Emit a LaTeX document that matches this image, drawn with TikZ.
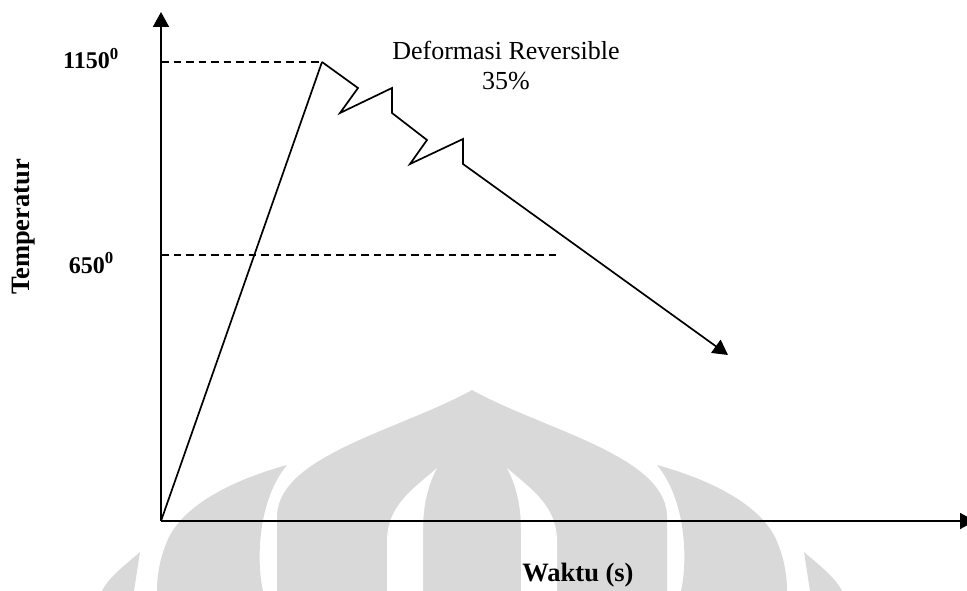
\documentclass[tikz,border=0pt]{standalone}
\usepackage{fontspec}
\setmainfont{Liberation Serif}
\usetikzlibrary{arrows.meta}
\definecolor{wmgray}{RGB}{217,217,217}
\begin{document}
\begin{tikzpicture}[x=1pt,y=-1pt,
  tip/.style={-{Triangle[length=15pt,width=16pt]}},
  axisline/.style={line width=1.9pt, tip},
  curve/.style={line width=1.7pt, line join=miter, miter limit=20},
  guide/.style={line width=1.6pt, dash pattern=on 7.5pt off 5pt},
  numlabel/.style={font=\bfseries\fontsize{24}{28}\selectfont, inner sep=0pt},
  axislabel/.style={font=\bfseries\fontsize{26.5}{30}\selectfont, inner sep=0pt},
  note/.style={font=\fontsize{26}{30}\selectfont, inner sep=0pt},
  emblem/.style={fill=wmgray, draw=none},
  gap/.style={fill=white, draw=none}]
\useasboundingbox (0,0) rectangle (967,591);

% background emblem: central dome with two slits, side petals and small leaves
\fill[emblem] (277,591) -- (277,515)
  .. controls (280,455) and (400,430) .. (472,390)
  .. controls (544,430) and (664,455) .. (667,515) -- (667,591) -- cycle;
\fill[gap] (437,468) .. controls (412,490) and (388,505) .. (387,540)
  -- (387,591) -- (423,591) -- (423,530) .. controls (423,505) and (428,485) .. (437,468);
\fill[gap] (507,468) .. controls (532,490) and (556,505) .. (557,540)
  -- (557,591) -- (521,591) -- (521,530) .. controls (521,505) and (516,485) .. (507,468);
\fill[emblem] (287,465) .. controls (240,478) and (190,500) .. (170,535)
  .. controls (160,555) and (157,575) .. (157,591) -- (263,591)
  .. controls (256,560) and (258,500) .. (287,465);
\fill[emblem] (657,465) .. controls (704,478) and (754,500) .. (774,535)
  .. controls (784,555) and (787,575) .. (787,591) -- (681,591)
  .. controls (688,560) and (686,500) .. (657,465);
\fill[emblem] (140,552) .. controls (125,565) and (108,578) .. (102,591)
  -- (134,591) -- cycle;
\fill[emblem] (804,552) .. controls (819,565) and (836,578) .. (842,591)
  -- (810,591) -- cycle;

% key points of the temperature profile
\coordinate (origin) at (161,521);
\coordinate (ytop) at (161,12);
\coordinate (xend) at (975,521);
\coordinate (peak) at (322,62);
\coordinate (z1) at (358,88);
\coordinate (z2) at (340,113);
\coordinate (z3) at (392,88);
\coordinate (z4) at (392,113);
\coordinate (z5) at (427,140);
\coordinate (z6) at (410,164);
\coordinate (z7) at (463,139);
\coordinate (z8) at (463,164);
\coordinate (cool) at (728,355);
\coordinate (hot) at (161,62);
\coordinate (warm) at (161,255);
\coordinate (warmend) at (560,255);

% axes
\draw[axisline] (origin) -- (ytop);
\draw[axisline] (origin) -- (xend);

% reference temperatures
\draw[guide] (hot) -- (peak);
\draw[guide] (warm) -- (warmend);

% heating, stepwise deformation and cooling
\draw[curve] (origin) -- (peak);
\draw[curve, tip] (peak) -- (z1) -- (z2) -- (z3) -- (z4) -- (z5) -- (z6)
  -- (z7) -- (z8) -- (cool);

% labels
\node[numlabel, anchor=base east] (t1150) at (119,69) {1150\textsuperscript{0}};
\node[numlabel, anchor=base east] (t650) at (114,273) {650\textsuperscript{0}};
\node[axislabel, rotate=90, anchor=base] (ylab) at (30,227) {Temperatur};
\node[axislabel, anchor=base] (xlab) at (578,581) {Waktu (s)};
\node[note, anchor=base] (deform) at (506,60) {Deformasi Reversible};
\node[note, anchor=base] (pct) at (506,90) {35\%};
\end{tikzpicture}
\end{document}
